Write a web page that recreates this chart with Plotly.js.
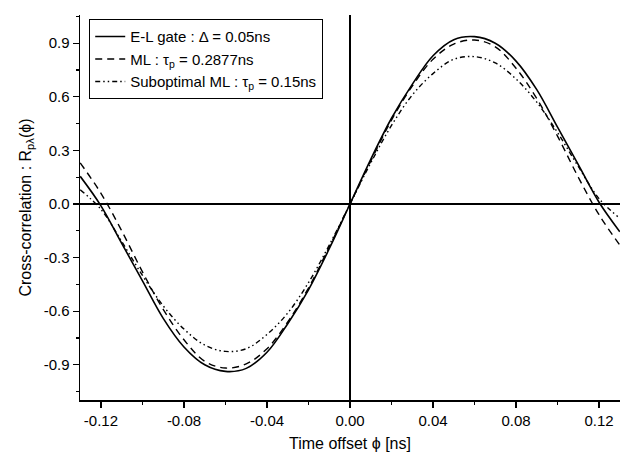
<!DOCTYPE html>
<html>
<head>
<meta charset="utf-8">
<script src="https://cdn.plot.ly/plotly-3.0.1.min.js"></script>
<style>html,body{margin:0;padding:0;background:#fff;}#plot{width:632px;height:463px;}</style>
</head>
<body>
<div id="plot"></div>
<script>
// Time offset (ns)
const timeOffset = [-0.13,-0.12,-0.11,-0.10,-0.09,-0.08,-0.07,-0.06,-0.05,-0.04,-0.03,-0.02,-0.01,0,
  0.01,0.02,0.03,0.04,0.05,0.06,0.07,0.08,0.09,0.10,0.11,0.12,0.13];
// E-L gate : Delta = 0.05ns
const elGate = [0.155,-0.01,-0.22,-0.43,-0.64,-0.80,-0.90,-0.937,-0.92,-0.83,-0.67,-0.48,-0.25,0,
  0.25,0.48,0.67,0.83,0.92,0.937,0.90,0.80,0.64,0.43,0.22,0.01,-0.155];
// ML : tau_p = 0.2877ns
const mlOpt = [0.23,0.06,-0.15,-0.38,-0.59,-0.76,-0.88,-0.918,-0.895,-0.81,-0.66,-0.47,-0.24,0,
  0.24,0.47,0.66,0.81,0.895,0.918,0.88,0.76,0.59,0.38,0.15,-0.06,-0.23];
// Suboptimal ML : tau_p = 0.15ns
const mlSub = [0.08,-0.03,-0.21,-0.40,-0.57,-0.70,-0.79,-0.825,-0.81,-0.73,-0.61,-0.44,-0.23,0,
  0.23,0.44,0.61,0.73,0.81,0.825,0.79,0.70,0.57,0.40,0.21,0.03,-0.08];

const seriesNames = [
  'E-L gate : \u0394 = 0.05ns',
  'ML : \u03c4<sub>p</sub> = 0.2877ns',
  'Suboptimal ML : \u03c4<sub>p</sub> = 0.15ns'
];
const xTickVals = [-0.12,-0.08,-0.04,0,0.04,0.08,0.12];
const xTickText = ['-0.12','-0.08','-0.04','0.00','0.04','0.08','0.12'];
const yTickVals = [-0.9,-0.6,-0.3,0,0.3,0.6,0.9];
const yTickText = ['-0.9','-0.6','-0.3','0.0','0.3','0.6','0.9'];

const font = 'Liberation Sans, Arial, Helvetica, sans-serif';

const traces = [
  {x: timeOffset, y: elGate, name: seriesNames[0], mode: 'lines',
   line: {color: '#000', width: 1.6, shape: 'spline', smoothing: 1}},
  {x: timeOffset, y: mlOpt, name: seriesNames[1], mode: 'lines',
   line: {color: '#000', width: 1.4, dash: '7px,5px', shape: 'spline', smoothing: 1}},
  {x: timeOffset, y: mlSub, name: seriesNames[2], mode: 'lines',
   line: {color: '#000', width: 1.4, dash: '5px,3px,1.5px,3px,1.5px,3px', shape: 'spline', smoothing: 1}}
];

const layout = {
  width: 632, height: 463,
  margin: {l: 80, r: 12, t: 15, b: 63},
  paper_bgcolor: '#fff', plot_bgcolor: '#fff',
  font: {family: font, size: 15, color: '#000'},
  showlegend: true,
  legend: {
    x: 0.0167, y: 0.9896, xanchor: 'left', yanchor: 'top',
    bgcolor: '#fff', bordercolor: '#000', borderwidth: 1.2,
    font: {family: font, size: 15, color: '#000'},
    tracegroupgap: 0
  },
  xaxis: {
    range: [-0.1301, 0.1301],
    tickmode: 'array', tickvals: xTickVals, ticktext: xTickText,
    ticks: 'outside', ticklen: 6, tickwidth: 1.3, tickcolor: '#000',
    minor: {dtick: 0.02, ticks: 'outside', ticklen: 3, tickwidth: 1.2, tickcolor: '#000', showgrid: false},
    showline: true, linecolor: '#000', linewidth: 1.5, mirror: false,
    showgrid: false,
    zeroline: true, zerolinecolor: '#000', zerolinewidth: 1.4,
    tickfont: {family: font, size: 15, color: '#000'},
    title: {text: 'Time offset \u03d5 [ns]', font: {family: font, size: 16, color: '#000'}, standoff: 10}
  },
  yaxis: {
    range: [-1.097, 1.058],
    tickmode: 'array', tickvals: yTickVals, ticktext: yTickText,
    ticks: 'outside', ticklen: 6, tickwidth: 1.3, tickcolor: '#000',
    minor: {dtick: 0.15, tick0: 0.15, ticks: 'outside', ticklen: 3, tickwidth: 1.2, tickcolor: '#000', showgrid: false},
    showline: true, linecolor: '#000', linewidth: 1.5, mirror: false,
    showgrid: false,
    zeroline: true, zerolinecolor: '#000', zerolinewidth: 1.4,
    tickfont: {family: font, size: 15, color: '#000'},
    title: {text: 'Cross-correlation : R<sub>p\u03bb</sub>(\u03d5)', font: {family: font, size: 16, color: '#000'}, standoff: 8}
  }
};

Plotly.newPlot('plot', traces, layout, {displayModeBar: false, staticPlot: true});
</script>
</body>
</html>
